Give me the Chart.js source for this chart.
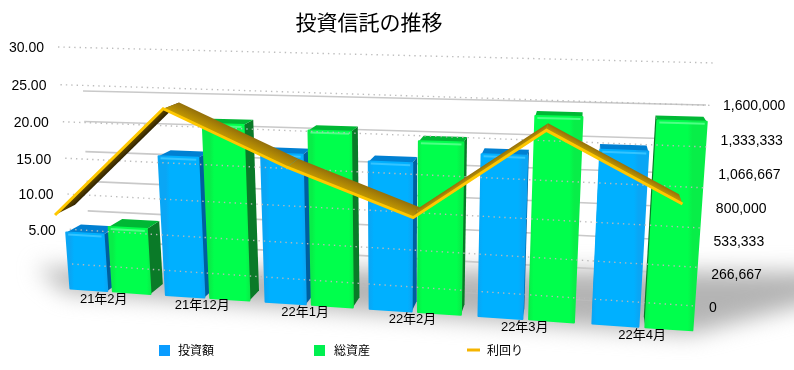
<!DOCTYPE html>
<html>
<head>
<meta charset="utf-8">
<script src="https://cdn.jsdelivr.net/npm/chart.js@4"></script>
<style>
  html, body { margin: 0; background: #fff; }
  canvas { display: block; }
</style>
</head>
<body>
<canvas id="chart" width="794" height="370"></canvas>
<script>
const categories = ['21年2月', '21年12月', '22年1月', '22年2月', '22年3月', '22年4月'];
const invested = [418000, 997000, 1043000, 1013000, 1088000, 1141000];
const totalAssets = [476000, 1231000, 1207000, 1159000, 1343000, 1334000];
const yields = [9.8, 24.5, 17.6, 11.9, 23.4, 15.2];
const rateTicks = [5, 10, 15, 20, 25, 30];
const assetTicks = [0, 266667, 533333, 800000, 1066667, 1333333, 1600000];

const FONT = '"Liberation Sans", "Noto Sans CJK JP", sans-serif';

// square to quad, corners are bottom-left, bottom-right, top-right, top-left
function plane(q) {
  const [x0, y0] = q[0], [x1, y1] = q[1], [x2, y2] = q[2], [x3, y3] = q[3];
  const dx1 = x1 - x2, dx2 = x3 - x2, sx = x0 - x1 + x2 - x3;
  const dy1 = y1 - y2, dy2 = y3 - y2, sy = y0 - y1 + y2 - y3;
  const det = dx1 * dy2 - dx2 * dy1;
  const g = (sx * dy2 - dx2 * sy) / det, h = (dx1 * sy - sx * dy1) / det;
  const a = x1 - x0 + g * x1, b = x3 - x0 + h * x3;
  const d = y1 - y0 + g * y1, e = y3 - y0 + h * y3;
  return (u, v) => {
    const w = g * u + h * v + 1;
    return [(a * u + b * v + x0) / w, (d * u + e * v + y0) / w];
  };
}

const frontPlane = plane([[63, 288], [702, 331], [720, 78], [46, 66]]);
const dotPlane = plane([[72, 264], [695, 306], [715, 63], [58, 47]]);
const wallPlane = plane([[90, 269], [692, 307], [706, 105], [83, 91]]);
const ribbonPlane = plane([[6, 282], [745, 331], [763, 80], [-14, 61]]);

const toward = (p, k) => [p[0] + k * (590 - p[0]), p[1] + k * (-57 - p[1])];

function poly(ctx, pts, fill) {
  ctx.beginPath();
  pts.forEach((p, i) => i ? ctx.lineTo(p[0], p[1]) : ctx.moveTo(p[0], p[1]));
  ctx.closePath();
  ctx.fillStyle = fill;
  ctx.fill();
}

function segment(ctx, a, b, color, width, dash) {
  ctx.beginPath();
  ctx.moveTo(a[0], a[1]);
  ctx.lineTo(b[0], b[1]);
  ctx.strokeStyle = color;
  ctx.lineWidth = width;
  ctx.setLineDash(dash || []);
  ctx.stroke();
  ctx.setLineDash([]);
}

function drawBar(ctx, chart, el, c) {
  const area = chart.chartArea;
  const uv = (x, y) => frontPlane((x - area.left) / area.width, (area.bottom - y) / area.height);
  const l = el.x - el.width / 2, r = el.x + el.width / 2;
  const bl = uv(l, el.base), br = uv(r, el.base), tr = uv(r, el.y), tl = uv(l, el.y);
  const k = 0.028;
  const bbl = toward(bl, k), bbr = toward(br, k), btr = toward(tr, k), btl = toward(tl, k);

  ctx.lineJoin = 'round';
  if (btr[0] > tr[0]) {
    poly(ctx, [br, bbr, btr, tr], c.side);
  } else {
    poly(ctx, [bl, bbl, btl, tl], c.side);
  }
  poly(ctx, [tl, tr, btr, btl], c.top);

  const g = ctx.createLinearGradient(bl[0], 0, br[0], 0);
  g.addColorStop(0, c.frontEdge);
  g.addColorStop(0.1, c.front);
  g.addColorStop(0.9, c.front);
  g.addColorStop(1, c.frontEdge);
  poly(ctx, [bl, br, tr, tl], g);
  ctx.strokeStyle = g;
  ctx.lineWidth = 2;
  ctx.stroke();
  segment(ctx, [tl[0] + 2, tl[1] + 2], [tr[0] - 2, tr[1] + 2], c.shine, 2);
}

function drawRibbon(ctx, chart, meta) {
  const area = chart.chartArea;
  const front = meta.data.map(p => ribbonPlane((p.x - area.left) / area.width, (area.bottom - p.y) / area.height));
  const back = front.map(p => toward(p, 0.0375));
  for (let i = 0; i < front.length - 1; i++) {
    const a = front[i], b = front[i + 1], ba = back[i], bb = back[i + 1];
    const under = (b[0] - a[0]) * (ba[1] - a[1]) - (b[1] - a[1]) * (ba[0] - a[0]) > 0;
    // shade across the band so neighbouring segments join without a step
    const dx = b[0] - a[0], dy = b[1] - a[1], len = Math.hypot(dx, dy);
    const nx = -dy / len, ny = dx / len;
    const d = (bb[0] - b[0]) * nx + (bb[1] - b[1]) * ny;
    const g = ctx.createLinearGradient(b[0], b[1], b[0] + nx * d, b[1] + ny * d);
    if (under) {
      g.addColorStop(0, '#6b5000');
      g.addColorStop(1, '#2e2200');
    } else {
      g.addColorStop(0, '#c79c00');
      g.addColorStop(1, '#94700a');
    }
    poly(ctx, [a, b, bb, ba], g);
  }
  ctx.lineJoin = 'miter';
  ctx.beginPath();
  front.forEach((p, i) => i ? ctx.lineTo(p[0], p[1]) : ctx.moveTo(p[0], p[1]));
  ctx.strokeStyle = '#ffc800';
  ctx.lineWidth = 3;
  ctx.stroke();
}

const perspective = {
  id: 'perspective',
  beforeDatasetsDraw(chart) {
    const ctx = chart.ctx, area = chart.chartArea;
    const vOf = (scale, value) => (area.bottom - scale.getPixelForValue(value)) / area.height;
    const yR = chart.scales.yR, yL = chart.scales.yL, x = chart.scales.x;

    ctx.save();
    // floor shadow
    ctx.save();
    ctx.filter = 'blur(11px)';
    poly(ctx, [[36, 268], [830, 272], [830, 298], [690, 334], [66, 292]], '#b4b4b4');
    ctx.restore();

    // back wall lines
    assetTicks.forEach(t => {
      const v = vOf(yR, t);
      segment(ctx, wallPlane(0, v), wallPlane(1, v), t ? '#c9c9c9' : 'rgba(190,190,190,0.5)', 1.6);
    });

    const colors = [
      { front: '#00b0ff', frontEdge: '#0aa6f5', side: '#005f9e', top: '#0080d2', shine: '#35c4ff' },
      { front: '#00ff4c', frontEdge: '#08ee48', side: '#0a7a28', top: '#00b835', shine: '#4dff85' }
    ];
    const metas = [chart.getDatasetMeta(0), chart.getDatasetMeta(1)];
    categories.forEach((_, i) => {
      metas.forEach((m, s) => drawBar(ctx, chart, m.data[i], colors[s]));
    });

    // front dotted lines run across the bars
    assetTicks.forEach(t => {
      const v = vOf(yR, t);
      segment(ctx, dotPlane(0, v), dotPlane(1, v), 'rgba(185,185,185,0.95)', 1.4, [1.4, 4]);
    });

    drawRibbon(ctx, chart, chart.getDatasetMeta(2));

    // axis text
    ctx.fillStyle = '#000';
    ctx.textBaseline = 'middle';
    ctx.font = '14px ' + FONT;
    ctx.textAlign = 'right';
    rateTicks.forEach(t => {
      const p = dotPlane(0, vOf(yL, t));
      ctx.fillText(t.toFixed(2), p[0] - 14, p[1] + 1.5);
    });
    ctx.textAlign = 'left';
    assetTicks.forEach(t => {
      const p = wallPlane(1, vOf(yR, t));
      ctx.fillText(t.toLocaleString('en-US'), p[0] + 17, p[1] + 1);
    });
    ctx.font = '13px ' + FONT;
    ctx.textAlign = 'center';
    categories.forEach((c, i) => {
      const u = (x.getPixelForValue(i) - area.left) / area.width;
      const p = frontPlane(u, 0);
      ctx.fillText(c, p[0] - 7 + 8 * u, p[1] + 8);
    });

    // title and legend
    ctx.font = '21px ' + FONT;
    ctx.fillText('投資信託の推移', 369, 24);
    ctx.font = '12px ' + FONT;
    ctx.textAlign = 'left';
    const sets = chart.data.datasets;
    ctx.fillStyle = sets[0].backgroundColor;
    ctx.fillRect(159, 345, 11, 11);
    ctx.fillStyle = sets[1].backgroundColor;
    ctx.fillRect(314, 345, 11, 11);
    segment(ctx, [467, 350], [480, 350], sets[2].borderColor, 3);
    ctx.fillStyle = '#000';
    ctx.fillText(sets[0].label, 178, 352);
    ctx.fillText(sets[1].label, 334, 352);
    ctx.fillText(sets[2].label, 487, 352);
    ctx.restore();
    return false;
  }
};

new Chart(document.getElementById('chart'), {
  data: {
    labels: categories,
    datasets: [
      { type: 'bar', label: '投資額', data: invested, backgroundColor: '#0a9cff', yAxisID: 'yR', categoryPercentage: 0.9, barPercentage: 0.87 },
      { type: 'bar', label: '総資産', data: totalAssets, backgroundColor: '#00f050', yAxisID: 'yR', categoryPercentage: 0.9, barPercentage: 0.87 },
      { type: 'line', label: '利回り', data: yields, borderColor: '#f5b400', yAxisID: 'yL' }
    ]
  },
  options: {
    responsive: false,
    animation: false,
    layout: { padding: 0 },
    plugins: { legend: { display: false }, tooltip: { enabled: false } },
    scales: {
      x: { display: false, offset: true },
      yL: { display: false, min: 0, max: 30 },
      yR: { display: false, min: 0, max: 1600000 }
    }
  },
  plugins: [perspective]
});
</script>
</body>
</html>
